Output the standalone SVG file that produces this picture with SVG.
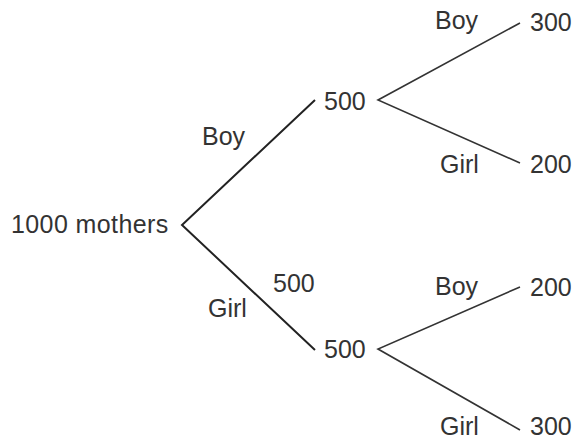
<svg xmlns="http://www.w3.org/2000/svg" width="575" height="440" viewBox="0 0 575 440">
<style>
text{font-family:"Liberation Sans",Arial,sans-serif;font-size:25px;fill:#333}
.l{stroke:#222;fill:none;stroke-width:2}
.r{stroke:#333;fill:none;stroke-width:1.6}
</style>
<rect width="575" height="440" fill="#fff"/>
<g id="connectors">
<polyline class="l" points="315,100 182,225 315,350"/>
<polyline class="r" points="520,23 378,100 520,163"/>
<polyline class="r" points="520,287 378,349 520,430"/>
<text x="202" y="145">Boy</text>
<text x="208" y="317">Girl</text>
<text x="273" y="292">500</text>
<text x="435" y="29">Boy</text>
<text x="440" y="173">Girl</text>
<text x="435" y="295">Boy</text>
<text x="440" y="435">Girl</text>
</g>
<g id="root"><text x="11" y="233" letter-spacing="0.4">1000 mothers</text></g>
<g id="n500a"><text x="324" y="110">500</text></g>
<g id="n500b"><text x="324" y="358">500</text></g>
<g id="n300a"><text x="530" y="31">300</text></g>
<g id="n200a"><text x="530" y="173">200</text></g>
<g id="n200b"><text x="530" y="296">200</text></g>
<g id="n300b"><text x="530" y="435">300</text></g>
</svg>
